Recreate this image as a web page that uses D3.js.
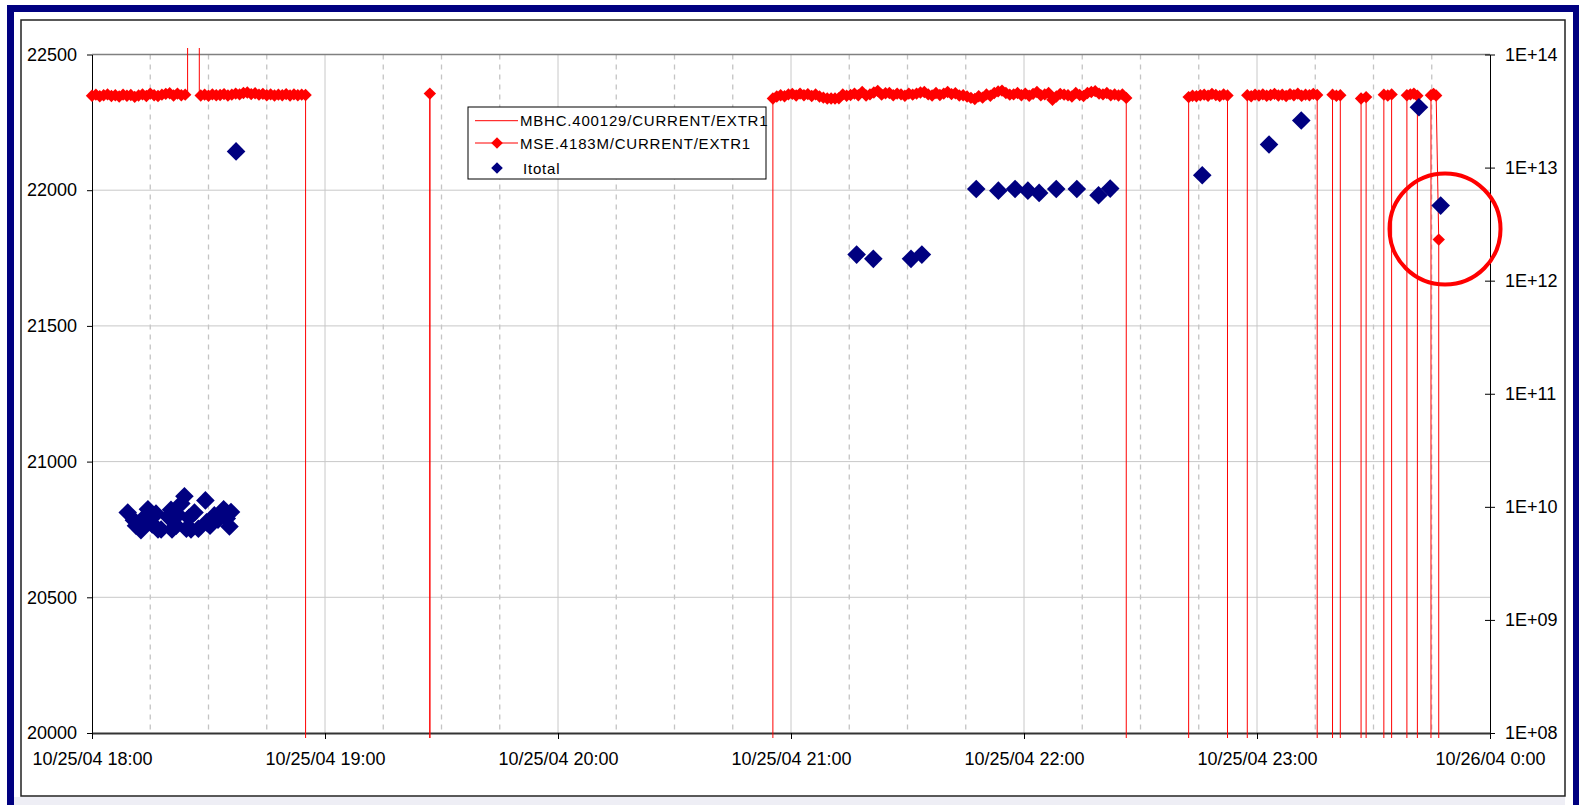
<!DOCTYPE html>
<html>
<head>
<meta charset="utf-8">
<script src="https://cdn.jsdelivr.net/npm/d3@7"></script>
<style>
  body { margin: 0; background: #fff; }
  svg { display: block; font-family: "Liberation Sans", Arial, sans-serif; }
</style>
</head>
<body>
<div id="chart"></div>
<script>
// ---- data ----
const day = "2004-10-25";
const hourTicks = ["2004-10-25 18:00:00", "2004-10-25 19:00:00", "2004-10-25 20:00:00",
  "2004-10-25 21:00:00", "2004-10-25 22:00:00", "2004-10-25 23:00:00", "2004-10-26 00:00:00"];
const leftTicks = [20000, 20500, 21000, 21500, 22000, 22500];
const rightTicks = [1e8, 1e9, 1e10, 1e11, 1e12, 1e13, 1e14];

const seriesNames = ["MBHC.400129/CURRENT/EXTR1", "MSE.4183M/CURRENT/EXTR1", "Itotal"];

// MBHC: only visible where it jumps above the top of the left axis
const mbhcTime = ["18:24:37", "18:24:37", "18:27:38", "18:27:38"];
const mbhcValue = [22352, 24000, 24000, 22350];

// MSE: logged segments (start, step in seconds, values); signal is 0 between segments
const mseStart = ["18:00:00", "19:27:00", "20:55:20", "22:42:24", "22:57:30",
  "23:19:27", "23:26:48", "23:32:40", "23:38:36", "23:44:48"];
const mseStep = [60, 60, 60, 60, 60, 60, 78, 60, 54, 40];
const mseValues = [
  [22348,22352,22346,22350,22353,22347,22350,22345,22352,22348,22351,22344,22349,22353,22347,
   22356,22350,22347,22352,22355,22357,22349,22356,22350,22352,null,null,null,22349,22352,
   22348,22353,22350,22351,22354,22349,22352,22356,22353,22358,22360,22354,22357,22352,22355,
   22350,22353,22349,22352,22350,22354,22349,22353,22350,22352,22351],
  [22356],
  [22338,22345,22350,22346,22353,22355,22349,22356,22350,22354,
   22347,22353,22345,22341,22338,22338,22338,22339,22353,22348,
   22351,22356,22350,22362,22349,22353,22360,22366,22352,22357,
   22358,22350,22356,22353,22348,22356,22352,22356,22360,22362,
   22353,22349,22358,22351,22356,22362,22354,22357,22349,22350,
   22345,22340,22336,22346,22341,22353,22348,22358,22364,22367,
   22358,22352,22353,22358,22350,22356,22348,22355,22362,22350,
   22353,22358,22333,22345,22355,22352,22350,22345,22358,22351,
   22347,22358,22362,22365,22356,22353,22358,22350,22353,22349,
   22353,22340],
  [22343,22348,22346,22350,22352,22348,22355,22351,22347,22353,22349],
  [22350,22346,22352,22349,22353,22348,22351,22355,22349,22352,22347,22354,22350,22356,22348,
   22352,22350,22355,22351],
  [22352,22348,22350],
  [22338,22343],
  [22352,22349,22353],
  [22350,22353,22356,22348],
  [22350,22355,22349,21818]
];

// Itotal on the right (log) axis
const itotalTime = ["18:09:12","18:10:48","18:11:20","18:12:36","18:13:23","18:14:24","18:15:30",
  "18:16:29","18:17:00","18:17:48","18:19:36","18:20:21","18:20:36","18:21:42","18:22:09",
  "18:23:00","18:23:48","18:24:18","18:24:59","18:25:30","18:26:24","18:27:24","18:29:12",
  "18:29:30","18:30:23","18:31:30","18:32:27","18:33:54","18:34:42","18:35:24","18:35:48","18:37:06",
  "21:16:54","21:21:12","21:30:54","21:33:42",
  "21:47:42","21:53:24","21:57:42","22:01:00","22:03:54","22:08:18","22:13:36","22:19:12","22:22:12",
  "22:45:54","23:03:06","23:11:24","23:41:42","23:47:18"];
const itotalValue = [8.9e9,7.6e9,6.8e9,6.2e9,8.0e9,9.5e9,7.0e9,
  8.7e9,6.3e9,6.3e9,8.2e9,9.4e9,6.3e9,6.8e9,8.5e9,
  1.07e10,1.24e10,6.4e9,8.0e9,6.3e9,8.9e9,6.4e9,1.14e10,
  7.3e9,6.8e9,8.4e9,7.7e9,9.5e9,7.9e9,6.7e9,9.0e9,1.39e13,
  1.70e12,1.56e12,1.56e12,1.70e12,
  6.47e12,6.25e12,6.47e12,6.25e12,5.97e12,6.47e12,6.47e12,5.69e12,6.52e12,
  8.55e12,1.60e13,2.61e13,3.42e13,4.61e12];

// the hand-drawn circle round the last reading
const markTime = "23:48:25", markValue = 21857;

// ---- layout ----
const W = 1579, H = 805;
const margin = { left: 92, top: 54.5, right: W - 1490, bottom: H - 733 };
const width = W - margin.left - margin.right,
  height = H - margin.top - margin.bottom;

const parseFull = d3.timeParse("%Y-%m-%d %H:%M:%S");
const parseTime = s => parseFull(day + " " + s);

const svg = d3.select("#chart").append("svg")
  .attr("width", W).attr("height", H);

// frame
svg.append("rect").attr("x", 0).attr("y", 0).attr("width", W).attr("height", H).attr("fill", "#fff");
svg.append("rect").attr("x", 14).attr("y", 797).attr("width", W - 28).attr("height", 10).attr("fill", "#eeeef5");
svg.append("rect").attr("x", 10.5).attr("y", 8.5).attr("width", 1566).attr("height", 830)
  .attr("fill", "none").attr("stroke", "#000080").attr("stroke-width", 7);
svg.append("rect").attr("x", 21).attr("y", 20).attr("width", 1544).attr("height", 776)
  .attr("fill", "none").attr("stroke", "#222").attr("stroke-width", 1.5);

const g = svg.append("g").attr("transform", "translate(" + margin.left + "," + margin.top + ")");

const x = d3.scaleTime()
  .domain([parseFull(hourTicks[0]), parseFull(hourTicks[hourTicks.length - 1])])
  .range([0, width]);
const yL = d3.scaleLinear().domain([20000, 22500]).range([height, 0]);
const yR = d3.scaleLog().domain([1e8, 1e14]).range([height, 0]);

// gridlines
const quarters = x.ticks(d3.timeMinute.every(15)).slice(1, -1);
g.append("g").selectAll("line").data(quarters).join("line")
  .attr("x1", d => x(d)).attr("x2", d => x(d))
  .attr("y1", 0).attr("y2", height)
  .attr("stroke", d => d.getMinutes() === 0 ? "#c8c8c8" : "#c4c4c4")
  .attr("stroke-width", d => d.getMinutes() === 0 ? 1 : 1.3)
  .attr("stroke-dasharray", d => d.getMinutes() === 0 ? null : "5,5");
g.append("g").selectAll("line").data(leftTicks.slice(1, -1)).join("line")
  .attr("x1", 0).attr("x2", width)
  .attr("y1", d => yL(d)).attr("y2", d => yL(d))
  .attr("stroke", "#c8c8c8");
g.append("line").attr("x1", 0).attr("x2", width).attr("y1", 0).attr("y2", 0)
  .attr("stroke", "#808080").attr("stroke-width", 1.5);

// axes
const yAxisL = g.append("g")
  .call(d3.axisLeft(yL).tickValues(leftTicks).tickSize(5).tickSizeOuter(0).tickPadding(10)
    .tickFormat(d3.format("d")));
const yAxisR = g.append("g").attr("transform", "translate(" + width + ",0)")
  .call(d3.axisRight(yR).tickValues(rightTicks).tickSize(5).tickSizeOuter(0).tickPadding(10)
    .tickFormat(d => "1E+" + String(Math.round(Math.log10(d))).padStart(2, "0")));
yAxisR.selectAll(".tick line").attr("x1", -5);
const xAxis = g.append("g").attr("transform", "translate(0," + height + ")")
  .call(d3.axisBottom(x).tickValues(hourTicks.map(parseFull)).tickSize(6).tickSizeOuter(0).tickPadding(13)
    .tickFormat(d3.timeFormat("%m/%d/%y %-H:%M")));
[yAxisL, yAxisR, xAxis].forEach(a => {
  a.selectAll("text").attr("font-size", 18).attr("fill", "#000")
    .attr("font-family", "'Liberation Sans', Arial, sans-serif");
  a.selectAll("line").attr("stroke", "#000");
  a.select(".domain").attr("stroke", "#000");
});
xAxis.select(".domain").attr("stroke", "#333").attr("stroke-width", 2);

// series data
const mbhc = mbhcTime.map((t, i) => ({ t: parseTime(t), v: mbhcValue[i] }));
const mse = [];
mseStart.forEach((s, i) => {
  const t0 = parseTime(s);
  const times = mseValues[i].map((v, j) => d3.timeSecond.offset(t0, j * mseStep[i]));
  if (i > 0) mse.push({ t: times[0], v: 0 });
  mseValues[i].forEach((v, j) => mse.push({ t: times[j], v: v, mark: v != null }));
  mse.push({ t: times[times.length - 1], v: 0 });
});
const itotal = itotalTime.map((t, i) => ({ t: parseTime(t), v: itotalValue[i] }));

svg.append("defs").append("clipPath").attr("id", "plotclip")
  .append("rect").attr("x", -10).attr("y", -6.5).attr("width", width + 20).attr("height", height + 11.5);

const line = d3.line().defined(d => d.v != null).x(d => x(d.t)).y(d => yL(d.v));
const lines = g.append("g").attr("clip-path", "url(#plotclip)");
lines.append("path").datum(mbhc).attr("d", line)
  .attr("fill", "none").attr("stroke", "#ff0000").attr("stroke-width", 1);
lines.append("path").datum(mse).attr("d", line)
  .attr("fill", "none").attr("stroke", "#ff0000").attr("stroke-width", 1);

const diamond = r => "M0," + (-r) + "L" + r + ",0L0," + r + "L" + (-r) + ",0Z";

g.append("g").selectAll("path").data(mse.filter(d => d.mark)).join("path")
  .attr("transform", d => "translate(" + x(d.t) + "," + yL(d.v) + ")")
  .attr("d", diamond(6.2)).attr("fill", "#ff0000");

g.append("g").selectAll("path").data(itotal).join("path")
  .attr("transform", d => "translate(" + x(d.t) + "," + yR(d.v) + ")")
  .attr("d", diamond(9.3)).attr("fill", "#000080");

// legend
const lg = svg.append("g").attr("transform", "translate(468,107)");
lg.append("rect").attr("width", 298).attr("height", 72)
  .attr("fill", "#fff").attr("stroke", "#000").attr("stroke-width", 1);
const rowsY = [13.7, 36, 61];
lg.append("line").attr("x1", 7).attr("x2", 50).attr("y1", rowsY[0]).attr("y2", rowsY[0])
  .attr("stroke", "#ff0000");
lg.append("line").attr("x1", 7).attr("x2", 50).attr("y1", rowsY[1]).attr("y2", rowsY[1])
  .attr("stroke", "#ff0000");
lg.append("path").attr("transform", "translate(29," + rowsY[1] + ")").attr("d", diamond(5.8)).attr("fill", "#ff0000");
lg.append("path").attr("transform", "translate(29," + rowsY[2] + ")").attr("d", diamond(5.8)).attr("fill", "#000080");
lg.selectAll("text.lab").data(seriesNames).join("text").attr("class", "lab")
  .attr("x", (d, i) => i === 2 ? 55 : 52).attr("y", (d, i) => rowsY[i] + 5.5)
  .attr("font-size", 15).attr("letter-spacing", "0.8px").attr("fill", "#000")
  .text(d => d);

// annotation circle
g.append("circle")
  .attr("cx", x(parseTime(markTime))).attr("cy", yL(markValue)).attr("r", 55.5)
  .attr("fill", "none").attr("stroke", "#ff0000").attr("stroke-width", 4);
</script>
</body>
</html>
